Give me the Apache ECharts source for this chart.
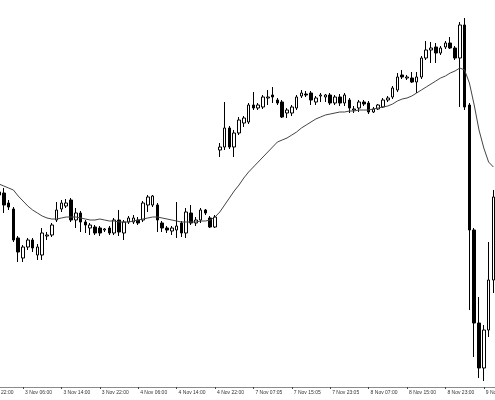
<!DOCTYPE html>
<html>
<head>
<meta charset="utf-8">
<script src="https://cdn.jsdelivr.net/npm/echarts@6/dist/echarts.min.js"></script>
<style>
html,body{margin:0;padding:0;background:#fff;}
#chart{width:495px;height:400px;}
</style>
</head>
<body>
<div id="chart"></div>
<script>
// Hourly sessions shown on the chart: [day, first hour, last hour, minute suffix]
const sessions = [
  ['2 Nov', 22, 23, ':00'],
  ['3 Nov', 0, 23, ':00'],
  ['4 Nov', 0, 22, ':00'],
  ['7 Nov', 0, 23, ':05'],
  ['8 Nov', 0, 23, ':00'],
  ['9 Nov', 0, 9, ':00']
];
// Tick labels printed on the time axis
const tickLabels = ['2 Nov 22:00','3 Nov 06:00','3 Nov 14:00','3 Nov 22:00','4 Nov 06:00','4 Nov 14:00','4 Nov 22:00',
  '7 Nov 07:05','7 Nov 15:05','7 Nov 23:05','8 Nov 07:00','8 Nov 15:00','8 Nov 23:00','9 Nov 07:00'];

const opens = ['-','-','-',103.55,
 103.57,103.47,103.41,103.12,102.92,103.03,103.10,102.95,102.95,103.14,
 103.15,103.30,103.41,103.44,103.50,103.30,103.37,103.28,103.22,103.23,
 103.22,103.20,103.22,103.17,103.30,103.17,103.28,103.28,103.30,103.30,
 103.45,103.45,103.45,103.27,103.22,103.19,103.20,103.27,103.17,103.37,
 103.27,103.30,103.40,103.32,103.23,104.00,104.03,104.22,104.03,104.17,
 104.27,104.28,104.45,104.42,104.43,104.52,104.55,104.50,104.48,104.37,
 104.37,104.42,104.54,104.56,104.57,104.48,104.54,104.53,104.55,104.47,
 104.53,104.47,104.50,104.40,104.42,104.48,104.47,104.38,104.41,104.43,
 104.50,104.53,104.60,104.75,104.72,104.72,104.68,104.73,104.92,105.00,
 105.03,104.97,105.03,105.07,105.02,104.92,105.25,104.45,103.20,102.27,
 101.82,102.20,102.70];
const closes = ['-','-','-',103.58,
 103.45,103.43,103.10,102.98,103.03,103.10,103.02,103.03,103.17,103.15,
 103.25,103.40,103.47,103.47,103.30,103.37,103.28,103.25,103.25,103.17,
 103.17,103.21,103.17,103.30,103.18,103.28,103.32,103.32,103.27,103.47,
 103.53,103.54,103.30,103.22,103.20,103.22,103.24,103.17,103.38,103.27,
 103.30,103.40,103.37,103.23,103.33,104.03,104.22,104.03,104.17,104.30,
 104.32,104.45,104.42,104.45,104.53,104.53,104.53,104.47,104.33,104.40,
 104.43,104.53,104.57,104.55,104.50,104.52,104.55,104.55,104.47,104.53,
 104.47,104.55,104.42,104.41,104.48,104.46,104.38,104.41,104.45,104.50,
 104.52,104.62,104.73,104.73,104.73,104.68,104.73,104.92,105.00,105.02,
 104.97,105.02,105.07,105.02,104.92,105.25,104.43,103.20,102.27,101.82,
 102.20,102.70,103.53];
const lows = ['-','-','-',103.53,
 103.37,103.40,103.08,102.88,102.88,103.00,102.98,102.90,102.90,103.10,
 103.13,103.28,103.38,103.42,103.28,103.22,103.18,103.17,103.15,103.15,
 103.14,103.18,103.15,103.15,103.14,103.10,103.26,103.26,103.25,103.28,
 103.38,103.43,103.18,103.18,103.17,103.15,103.12,103.13,103.12,103.25,
 103.24,103.27,103.35,103.22,103.22,103.93,104.00,104.01,103.93,104.15,
 104.23,104.26,104.40,104.40,104.41,104.45,104.47,104.45,104.32,104.32,
 104.34,104.40,104.52,104.53,104.45,104.45,104.48,104.48,104.45,104.45,
 104.44,104.44,104.37,104.37,104.38,104.44,104.36,104.37,104.40,104.42,
 104.48,104.51,104.58,104.71,104.70,104.67,104.57,104.71,104.90,104.87,
 104.87,104.95,105.01,105.01,104.90,104.43,104.40,102.40,101.93,101.72,
 101.69,102.13,102.57];
const highs = ['-','-','-',103.60,
 103.62,103.50,103.43,103.14,103.05,103.12,103.12,103.06,103.22,103.18,
 103.27,103.48,103.50,103.51,103.52,103.42,103.39,103.30,103.27,103.25,
 103.24,103.22,103.24,103.32,103.40,103.30,103.34,103.35,103.33,103.49,
 103.55,103.55,103.47,103.29,103.24,103.24,103.48,103.29,103.42,103.45,
 103.33,103.42,103.41,103.34,103.35,104.07,104.48,104.24,104.20,104.33,
 104.34,104.47,104.58,104.47,104.55,104.60,104.63,104.52,104.50,104.42,
 104.45,104.55,104.60,104.59,104.59,104.54,104.57,104.56,104.57,104.55,
 104.56,104.57,104.52,104.44,104.50,104.50,104.49,104.43,104.46,104.52,
 104.54,104.64,104.77,104.80,104.75,104.78,104.78,104.94,105.09,105.08,
 105.07,105.04,105.09,105.13,105.04,105.28,105.32,104.47,103.22,102.53,
 102.25,103.08,103.60];
const movingAverage = ['-','-','-',103.66,
 103.64,103.62,103.60,103.54,103.49,103.44,103.40,103.37,103.34,103.32,
 103.31,103.31,103.32,103.33,103.33,103.33,103.32,103.31,103.30,103.30,
 103.31,103.30,103.29,103.29,103.28,103.28,103.28,103.29,103.30,103.31,
 103.32,103.33,103.33,103.32,103.31,103.30,103.29,103.28,103.28,103.28,
 103.28,103.29,103.29,103.30,103.33,103.38,103.45,103.52,103.59,103.65,
 103.72,103.78,103.83,103.88,103.93,103.98,104.03,104.08,104.10,104.12,
 104.15,104.18,104.22,104.25,104.28,104.31,104.33,104.35,104.36,104.37,
 104.38,104.38,104.39,104.39,104.40,104.40,104.40,104.41,104.42,104.43,
 104.44,104.46,104.49,104.51,104.52,104.54,104.57,104.60,104.63,104.66,
 104.69,104.72,104.74,104.77,104.79,104.82,104.80,104.67,104.45,104.20,
 104.02,103.88,103.83];

const categories = [];
sessions.forEach(function (s) {
  for (let h = s[1]; h <= s[2]; h++) {
    categories.push(s[0] + ' ' + (h < 10 ? '0' : '') + h + s[3]);
  }
});
const tickSet = new Set(tickLabels);
const candles = opens.map(function (o, i) { return [o, closes[i], lows[i], highs[i]]; });

const barStep = 4.8;
const chart = echarts.init(document.getElementById('chart'), null, {renderer: 'canvas'});
chart.setOption({
  animation: false,
  backgroundColor: '#ffffff',
  grid: {left: 1.4 - 4 * barStep, top: 0, width: categories.length * barStep, height: 387,
    outerBoundsMode: 'none', containLabel: false},
  xAxis: {
    type: 'category',
    data: categories,
    boundaryGap: true,
    axisLine: {show: true, lineStyle: {color: '#8a8a8a', width: 1}},
    axisTick: {show: true, alignWithLabel: true, length: 2,
      interval: function (i, v) { return tickSet.has(v); },
      lineStyle: {color: '#444'}},
    axisLabel: {show: true, align: 'left', margin: 3, padding: [0, 0, 0, 2],
      fontSize: 5, color: '#333', fontFamily: 'Liberation Sans',
      hideOverlap: false,
      interval: function (i, v) { return tickSet.has(v); }},
    splitLine: {show: false}
  },
  yAxis: {
    type: 'value', min: 101.63, max: 105.50, show: false,
    splitLine: {show: false}
  },
  series: [
    {
      type: 'candlestick',
      data: candles,
      barWidth: 3,
      itemStyle: {color: '#ffffff', color0: '#000000', borderColor: '#000000', borderColor0: '#000000', borderWidth: 1}
    },
    {
      type: 'line',
      data: movingAverage,
      showSymbol: false,
      symbol: 'none',
      lineStyle: {color: '#444444', width: 1}
    }
  ]
});
</script>
</body>
</html>
